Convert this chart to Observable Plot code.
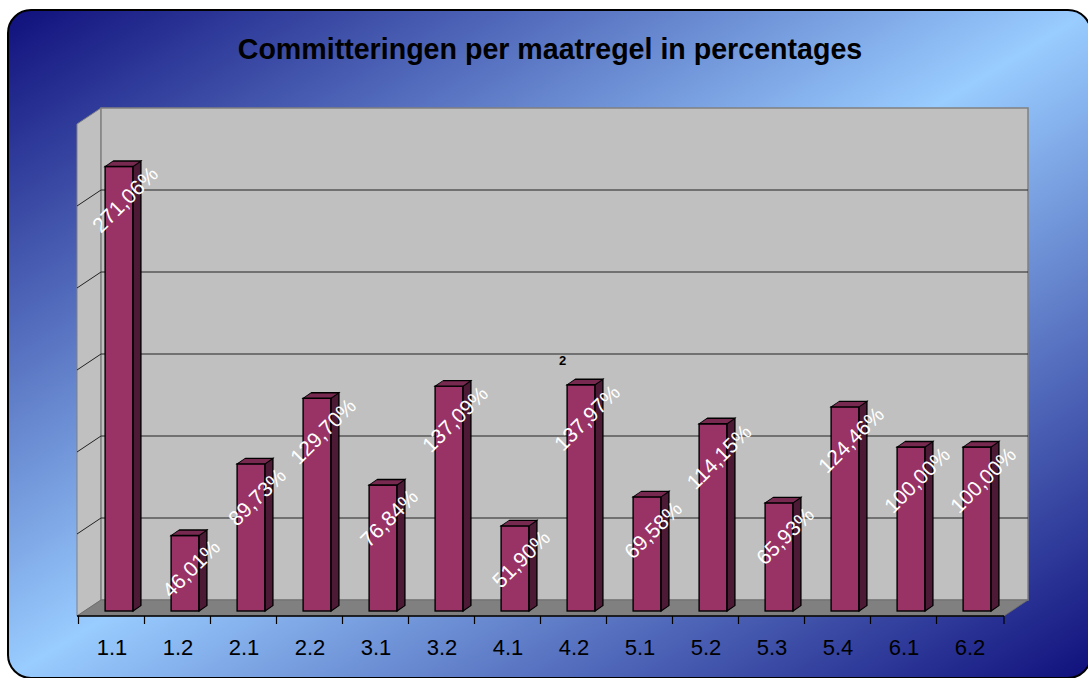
<!DOCTYPE html>
<html>
<head>
<meta charset="utf-8">
<script src="https://cdn.jsdelivr.net/npm/d3@7"></script>
<script src="https://cdn.jsdelivr.net/npm/@observablehq/plot@0.6"></script>
<style>
  body { margin: 0; background: #fff; }
  #wrap { position: relative; width: 1088px; height: 678px; overflow: hidden; font-family: Arial, "Liberation Sans", sans-serif; }
  #bg { position: absolute; left: 7px; top: 9px; width: 1081px; height: 666px; border: 2px solid #000; border-radius: 24px;
        background: linear-gradient(to bottom right, #10107c 0%, #99ccff 50%, #10107c 100%); }
  #title { position: absolute; left: 0; top: 35px; width: 1100px; text-align: center; font-weight: bold; font-size: 28.6px; line-height: 28px; color: #000; }
  #chart { position: absolute; left: 0; top: 80px; }
</style>
</head>
<body>
<div id="wrap">
  <div id="bg"></div>
  <div id="title">Committeringen per maatregel in percentages</div>
  <div id="chart"></div>
</div>
<script>
// ---- data ----
const categories = ["1.1","1.2","2.1","2.2","3.1","3.2","4.1","4.2","5.1","5.2","5.3","5.4","6.1","6.2"];
const values = [271.06, 46.01, 89.73, 129.70, 76.84, 137.09, 51.90, 137.97, 69.58, 114.15, 65.93, 124.46, 100.00, 100.00];
const gridValues = [50, 100, 150, 200, 250];
const yMax = 300;
const strayLabel = "2";
const strayCategory = "4.2";

const data = categories.map((c, i) => ({cat: c, value: values[i]}));
const fmt = v => d3.format(".2f")(v).replace(".", ",") + "%";

// ---- geometry ----
const W = 1088, H = 598;
const ML = 84.5, MR = 76.5, MT = 39, MB = 67;
const bw = (W - ML - MR) / categories.length;
const faceW = 28, depthX = 8, depthY = 5.5;
const inFront = (bw - faceW) / 2;
const sideL = bw / 2 + faceW / 2, sideR = bw / 2 - faceW / 2 - depthX;
const BX = 16.5, BY = -11;   // back wall offset from bar plane
const FX = -7.5, FY = 5;     // front edge offset from bar plane

const plot = Plot.plot({
  width: W, height: H,
  marginLeft: ML, marginRight: MR, marginTop: MT, marginBottom: MB,
  x: {type: "band", domain: categories, padding: 0, axis: null},
  y: {domain: [0, yMax], axis: null},
  style: {background: "transparent", overflow: "visible", fontFamily: "Arial, 'Liberation Sans', sans-serif"},
  marks: [
    // front faces
    Plot.barY(data, {x: "cat", y: "value", fill: "#993366", stroke: "#000", strokeWidth: 1.4,
      insetLeft: inFront, insetRight: inFront}),
    // side faces (skewed afterwards)
    Plot.barY(data, {x: "cat", y: "value", fill: "#4d1a35", stroke: "#000", strokeWidth: 1.4,
      insetLeft: sideL, insetRight: sideR}),
    // top faces (skewed afterwards)
    Plot.barY(data, {x: "cat", y1: "value", y2: "value", fill: "#77294f", stroke: "#000", strokeWidth: 1.4,
      insetLeft: inFront, insetRight: inFront, insetTop: -depthY}),
    // value labels
    Plot.text(data, {x: "cat", y: "value", text: d => fmt(d.value), fill: "#fff", fontSize: 21,
      rotate: -45, dx: 6, dy: 33, textAnchor: "middle", lineAnchor: "middle"}),
    // category labels
    Plot.text(categories, {x: d => d, frameAnchor: "bottom", text: d => d, fill: "#000", fontSize: 22,
      dx: FX, dy: 36, textAnchor: "middle", lineAnchor: "middle"}),
    // stray label
    Plot.text([{cat: strayCategory, value: values[categories.indexOf(strayCategory)]}],
      {x: "cat", y: "value", text: () => strayLabel, fill: "#000", fontSize: 13, fontWeight: "bold",
       dx: -19, dy: -24, textAnchor: "middle", lineAnchor: "middle"})
  ]
});

document.getElementById("chart").appendChild(plot);

// ---- 3D decorations & skew, using Plot's scales ----
const svg = d3.select(plot);
const xs = plot.scale("x"), ysc = plot.scale("y");
const yf = ysc.apply ? (v => ysc.apply(v)) : d3.scaleLinear(ysc.domain, ysc.range);
const xStart = ML, xEnd = W - MR;
const y0 = yf(0), yTop = yf(yMax);

// skew side faces and top faces
const bars = svg.selectAll('g[aria-label="bar"]').nodes();
const k = depthY / depthX, m = depthX / depthY;
d3.select(bars[1]).selectAll("rect").each(function() {
  const x0 = +this.getAttribute("x");
  this.setAttribute("transform", `matrix(1,${-k},0,1,0,${k * x0})`);
});
d3.select(bars[2]).selectAll("rect").each(function() {
  const yb = +this.getAttribute("y") + +this.getAttribute("height");
  this.setAttribute("transform", `matrix(1,0,${-m},1,${m * yb},0)`);
});

const deco = svg.insert("g", "g");
// left side wall
deco.append("path")
  .attr("d", `M${xStart + FX},${yTop + FY}L${xStart + BX},${yTop + BY}L${xStart + BX},${y0 + BY}L${xStart + FX},${y0 + FY}Z`)
  .attr("fill", "#c0c0c0").attr("stroke", "#808080").attr("stroke-width", 1);
// back wall
deco.append("rect")
  .attr("x", xStart + BX).attr("y", yTop + BY).attr("width", xEnd - xStart).attr("height", y0 - yTop)
  .attr("fill", "#c0c0c0").attr("stroke", "#808080").attr("stroke-width", 1.5);
// gridlines
gridValues.forEach(v => {
  const yy = yf(v);
  deco.append("line").attr("x1", xStart + BX).attr("x2", xEnd + BX).attr("y1", yy + BY).attr("y2", yy + BY)
    .attr("stroke", "#222").attr("stroke-width", 1.2);
  deco.append("line").attr("x1", xStart + FX).attr("x2", xStart + BX).attr("y1", yy + FY).attr("y2", yy + BY)
    .attr("stroke", "#222").attr("stroke-width", 1);
});
// floor
deco.append("path")
  .attr("d", `M${xStart + FX},${y0 + FY}L${xStart + BX},${y0 + BY}L${xEnd + BX},${y0 + BY}L${xEnd + FX},${y0 + FY}Z`)
  .attr("fill", "#808080").attr("stroke", "#6a6a6a").attr("stroke-width", 0.8);
// axis line and ticks
deco.append("line").attr("x1", xStart + FX).attr("x2", xEnd + FX).attr("y1", y0 + FY).attr("y2", y0 + FY)
  .attr("stroke", "#000").attr("stroke-width", 1.3);
for (let i = 0; i <= categories.length; i++) {
  const xx = (i < categories.length ? xs.apply(categories[i]) : xEnd) + FX;
  deco.append("line").attr("x1", xx).attr("x2", xx).attr("y1", y0 + FY).attr("y2", y0 + FY + 8)
    .attr("stroke", "#000").attr("stroke-width", 1.2);
}
</script>
</body>
</html>
